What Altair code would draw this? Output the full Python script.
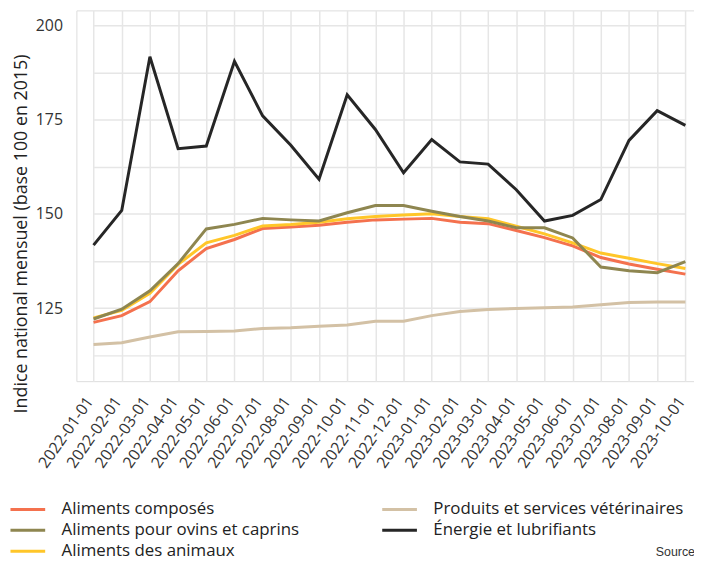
import altair as alt
import pandas as pd

dates = ["2022-01-01", "2022-02-01", "2022-03-01", "2022-04-01", "2022-05-01", "2022-06-01",
         "2022-07-01", "2022-08-01", "2022-09-01", "2022-10-01", "2022-11-01", "2022-12-01",
         "2023-01-01", "2023-02-01", "2023-03-01", "2023-04-01", "2023-05-01", "2023-06-01",
         "2023-07-01", "2023-08-01", "2023-09-01", "2023-10-01"]

composes = [121.2, 123.0, 126.7, 134.9, 140.8, 143.2, 146.1, 146.5, 147.0, 147.8, 148.4,
            148.6, 148.8, 147.8, 147.4, 145.6, 143.7, 141.5, 138.4, 136.7, 135.3, 134.0]
animaux = [122.4, 124.4, 128.9, 136.6, 142.3, 144.3, 146.8, 147.2, 147.8, 148.7, 149.3,
           149.7, 150.0, 149.3, 148.7, 146.7, 144.7, 142.3, 139.6, 138.2, 136.8, 135.5]
ovins = [122.1, 124.7, 129.6, 136.8, 146.0, 147.2, 148.8, 148.4, 148.1, 150.3, 152.2,
         152.2, 150.7, 149.3, 148.1, 146.3, 146.3, 143.6, 135.9, 134.9, 134.4, 137.3]
produits = [115.3, 115.8, 117.3, 118.7, 118.8, 118.9, 119.6, 119.8, 120.2, 120.5, 121.5,
            121.5, 123.0, 124.1, 124.6, 124.9, 125.1, 125.3, 125.9, 126.5, 126.6, 126.6]
energie = [141.7, 150.9, 191.7, 167.3, 168.0, 190.5, 176.0, 168.2, 159.2, 181.6, 172.4,
           160.9, 169.7, 163.8, 163.2, 156.4, 148.1, 149.6, 153.8, 169.5, 177.4, 173.5]

names = {
    "composes": "Aliments composés",
    "ovins": "Aliments pour ovins et caprins",
    "animaux": "Aliments des animaux",
    "produits": "Produits et services vétérinaires",
    "energie": "Énergie et lubrifiants",
}
colors = {
    "composes": "#F4714E",
    "ovins": "#8E8650",
    "animaux": "#FFC629",
    "produits": "#D3C1A5",
    "energie": "#262626",
}

# drawing order (bottom to top)
draw = [("composes", composes), ("animaux", animaux), ("ovins", ovins),
        ("produits", produits), ("energie", energie)]
rows = []
for k, vals in draw:
    for d, v in zip(dates, vals):
        rows.append({"date": d, "value": v, "serie": names[k]})
df = pd.DataFrame(rows)

legend_keys = ["composes", "ovins", "animaux", "produits", "energie"]
domain = [names[k] for k in legend_keys]
rng = [colors[k] for k in legend_keys]

FONT = "Open Sans"
GRID = "#E6E6E6"

chart = alt.Chart(df).mark_line(strokeWidth=3).encode(
    x=alt.X("date:O", sort=dates,
            scale=alt.Scale(type="point", range=[17.3, 614.3], padding=0),
            axis=alt.Axis(title=None, labelAngle=305, labelAlign="right",
                          labelBaseline="alphabetic", labelPadding=20,
                          ticks=False, domain=False, grid=True,
                          gridColor=GRID, gridWidth=1.5,
                          labelFontSize=16, labelFont=FONT, labelColor="#333333")),
    y=alt.Y("value:Q",
            scale=alt.Scale(domain=[105.6, 204.0], nice=False, zero=False),
            axis=alt.Axis(values=[112.5, 125, 137.5, 150, 162.5, 175, 187.5, 200],
                          labelExpr="datum.value % 25 == 0 ? format(datum.value, 'd') : ''",
                          title="Indice national mensuel (base 100 en 2015)",
                          titleFont=FONT, titleFontSize=18, titleFontWeight="normal",
                          titleColor="#222222", titleAngle=270, titleX=-55, titleY=225,
                          titleAlign="center", titleBaseline="middle",
                          ticks=False, domain=False, grid=True,
                          gridColor=GRID, gridWidth=1.5, labelPadding=14,
                          labelFontSize=16, labelFont=FONT, labelColor="#333333")),
    color=alt.Color("serie:N",
                    scale=alt.Scale(domain=domain, range=rng),
                    legend=alt.Legend(title=None, orient="none", legendX=-68, legendY=493,
                                      columns=2, columnPadding=82, rowPadding=0,
                                      clipHeight=21,
                                      symbolType="stroke", symbolSize=1225,
                                      symbolStrokeWidth=3, labelFontSize=17,
                                      labelFont=FONT, labelColor="#222222",
                                      labelOffset=15, padding=0, labelLimit=400)),
).properties(
    width=623, height=374,
    title=alt.TitleParams("Source", orient="top", anchor="end", fontSize=12.5,
                          fontWeight="normal", color="#333333", font="Liberation Sans",
                          baseline="alphabetic", offset=0, dy=563, dx=1),
    autosize=alt.AutoSizeParams(type="none"),
    padding={"left": 69, "top": 0, "right": 0, "bottom": 179},
).configure_view(stroke=None).configure(background="white")

chart.save("out.html", embed_options={"renderer": "svg", "actions": False})
